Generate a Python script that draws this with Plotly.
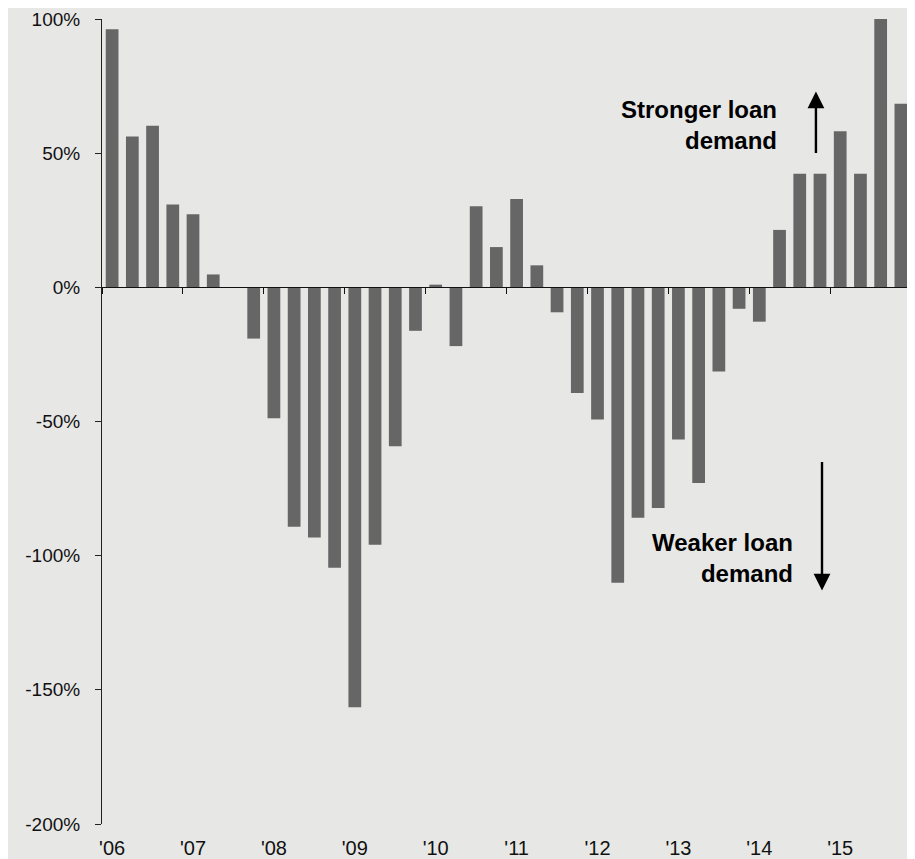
import plotly.graph_objects as go

quarters = [f"{y}Q{q}" for y in range(2006, 2016) for q in range(1, 5)]
values = [96.2, 56.2, 60.2, 30.9, 27.2, 4.8, 0.0, -19.1,
          -48.8, -89.2, -93.2, -104.5, -156.5, -95.9, -59.2, -16.2,
          1.0, -21.9, 30.2, 15.0, 32.9, 8.2, -9.3, -39.4,
          -49.3, -110.1, -85.9, -82.2, -56.7, -72.9, -31.4, -8.0,
          -12.8, 21.4, 42.3, 42.3, 58.2, 42.3, 100.4, 68.4]
year_labels = ["'06", "'07", "'08", "'09", "'10", "'11", "'12", "'13", "'14", "'15"]
y_ticks = [-200, -150, -100, -50, 0, 50, 100]
y_ticktext = [f"{v}%" for v in y_ticks]

xpos = list(range(len(quarters)))
label_pos = [4 * i for i in range(len(year_labels))]
boundary_pos = [4 * i - 0.5 for i in range(len(year_labels) + 1)]

BG = "#e7e7e6"
FONT = "Arial, 'Liberation Sans', sans-serif"

fig = go.Figure()
fig.add_trace(go.Bar(
    x=xpos, y=values, customdata=quarters,
    marker=dict(color="#666666", line=dict(width=0)),
    hovertemplate="%{customdata}: %{y:.0f}%<extra></extra>",
))
# empty trace so that the zero-line axis (x2) is drawn
fig.add_trace(go.Scatter(x=[], y=[], xaxis="x2", yaxis="y", showlegend=False, hoverinfo="skip"))

fig.update_layout(
    width=907, height=851,
    margin=dict(l=94, r=4, t=11, b=35, autoexpand=False),
    paper_bgcolor=BG, plot_bgcolor=BG,
    showlegend=False, bargap=0.37,
    font=dict(family=FONT, color="#111111"),
    xaxis=dict(range=[-0.5, 39.5], tickvals=label_pos, ticktext=year_labels,
               showline=False, zeroline=False, showgrid=False, automargin=False,
               ticks="outside", ticklen=6, tickcolor="rgba(0,0,0,0)",
               ticklabeloverflow="allow",
               tickfont=dict(size=20, color="#111111")),
    xaxis2=dict(range=[-0.5, 39.5], overlaying="x", anchor="free", position=2/3,
                showline=True, linecolor="#111111", linewidth=1,
                ticks="outside", ticklen=6, tickcolor="#111111",
                tickvals=boundary_pos, showticklabels=False, automargin=False,
                showgrid=False, zeroline=False),
    yaxis=dict(range=[-200, 100], tickvals=y_ticks, ticktext=y_ticktext,
               showline=True, linecolor="#222222", linewidth=1, automargin=False,
               ticks="outside", ticklen=6, tickcolor="#222222",
               showgrid=False, zeroline=False, ticklabelstandoff=11,
               ticklabeloverflow="allow",
               tickfont=dict(size=19, color="#111111")),
)

fig.add_annotation(x=34.8, y=73, ax=34.8, ay=49.5, xref="x", yref="y", axref="x", ayref="y",
                   text="", showarrow=True, arrowhead=2, arrowsize=1.4, arrowwidth=2.4, arrowcolor="#000000")
fig.add_annotation(x=35.1, y=-113, ax=35.1, ay=-64.5, xref="x", yref="y", axref="x", ayref="y",
                   text="", showarrow=True, arrowhead=2, arrowsize=1.4, arrowwidth=2.4, arrowcolor="#000000")
fig.add_annotation(x=32.97, y=60.4, xref="x", yref="y", xanchor="right", yanchor="middle", align="right",
                   text="<b>Stronger loan<br>demand</b>", showarrow=False,
                   font=dict(size=24, color="#000000", family=FONT))
fig.add_annotation(x=33.76, y=-100.7, xref="x", yref="y", xanchor="right", yanchor="middle", align="right",
                   text="<b>Weaker loan<br>demand</b>", showarrow=False,
                   font=dict(size=24, color="#000000", family=FONT))

fig.write_html("out.html")
